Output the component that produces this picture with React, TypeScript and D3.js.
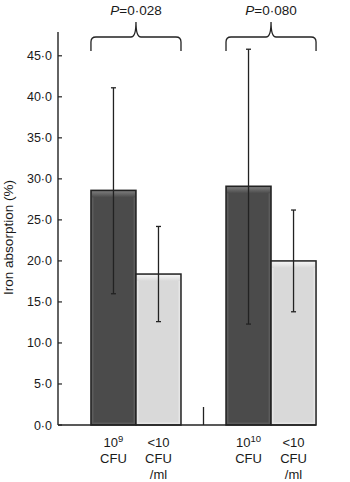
import React from 'react';
import * as d3 from 'd3';

// groups along the x axis, and the two bars inside each group
const groups = ['A', 'B'];
const subgroups = ['dose', 'control'];

const pLabels = ['0·028', '0·080'];

// mean iron absorption (%) per group, in subgroup order
const doseMeans = [28.6, 29.1];
const controlMeans = [18.4, 20.0];

// error bar ends
const doseUpper = [41.1, 45.8];
const doseLower = [16.0, 12.3];
const controlUpper = [24.2, 26.2];
const controlLower = [12.6, 13.8];

// x labels under each bar
const doseExp = ['9', '10'];
const controlLabel = ['<10', 'CFU', '/ml'];

const yTicks = [0, 5, 10, 15, 20, 25, 30, 35, 40, 45];

const W = 350;
const H = 482;
const font = '"Liberation Sans", Arial, sans-serif';

const fmt = (v: number) => v.toFixed(1).replace('.', '·');

const barColors: Record<string, { body: string; hi: string; edge: string }> = {
  dose: { body: '#4b4b4b', hi: '#7a7a7a', edge: '#5c5c5c' },
  control: { body: '#d9d9d9', hi: '#f4f4f4', edge: '#e6e6e6' },
};

export default function App() {
  const y = d3.scaleLinear().domain([0, 47.9]).range([425, 32]);

  const x = d3.scaleBand<string>()
    .domain(groups)
    .range([58, 349])
    .paddingInner(1 / 3)
    .paddingOuter(0.244);

  const xSub = d3.scaleBand<string>()
    .domain(subgroups)
    .range([0, x.bandwidth()]);

  const bars = groups.flatMap((g, i) => [
    { g, s: 'dose', v: doseMeans[i], hi: doseUpper[i], lo: doseLower[i] },
    { g, s: 'control', v: controlMeans[i], hi: controlUpper[i], lo: controlLower[i] },
  ]);

  const x0 = y(0);
  const axisTop = y.range()[1];
  const lastX = (x(groups[groups.length - 1]) || 0) + x.bandwidth();
  const midX = ((x(groups[0]) || 0) + x.bandwidth() + (x(groups[1]) || 0)) / 2;

  // curly brace above a group
  const brace = (a: number, b: number) => {
    const m = (a + b) / 2;
    const yEnd = 51, yH = 37, yP = 22;
    return `M${a},${yEnd} L${a},${yH + 5} Q${a},${yH} ${a + 5},${yH} L${m - 5},${yH}` +
      ` Q${m},${yH} ${m},${yP} Q${m},${yH} ${m + 5},${yH} L${b - 5},${yH}` +
      ` Q${b},${yH} ${b},${yH + 5} L${b},${yEnd}`;
  };

  return (
    <svg width={W} height={H} style={{ position: 'absolute', left: 0, top: 0, background: '#fff' }}
      fontFamily={font}>
      <defs>
        {subgroups.map(s => (
          <linearGradient key={s} id={`top-${s}`} x1="0" y1="0" x2="0" y2="1">
            <stop offset="0%" stopColor={barColors[s].hi} />
            <stop offset="100%" stopColor={barColors[s].body} />
          </linearGradient>
        ))}
      </defs>

      {/* y axis */}
      <line x1={58} x2={58} y1={axisTop} y2={x0} stroke="#222" strokeWidth={1.4} />
      {yTicks.map(t => (
        <g key={t}>
          <line x1={58} x2={62} y1={y(t)} y2={y(t)} stroke="#222" strokeWidth={1.2} />
          <text x={52} y={y(t) + 4.5} textAnchor="end" fontSize={12.5} fill="#1a1a1a">{fmt(t)}</text>
        </g>
      ))}
      <text transform={`translate(13,${237.5}) rotate(-90)`} textAnchor="middle" fontSize={13.5} fill="#1a1a1a">
        Iron absorption (%)
      </text>

      {/* bars */}
      {bars.map((d, i) => {
        const bx = (x(d.g) || 0) + (xSub(d.s) || 0);
        const bw = xSub.bandwidth();
        const by = y(d.v);
        const bh = x0 - by;
        const c = barColors[d.s];
        return (
          <g key={i}>
            <rect x={bx} y={by} width={bw} height={bh} fill={c.body} />
            <rect x={bx + 1.5} y={by + 1.5} width={bw - 3} height={bh - 3} fill="none" stroke={c.edge} strokeWidth={2} />
            <rect x={bx + 1} y={by + 1} width={bw - 2} height={6} fill={`url(#top-${d.s})`} />
            <rect x={bx} y={by} width={bw} height={bh} fill="none" stroke="#222" strokeWidth={1.5} />
          </g>
        );
      })}

      {/* error bars */}
      {bars.map((d, i) => {
        const cx = (x(d.g) || 0) + (xSub(d.s) || 0) + xSub.bandwidth() / 2;
        return (
          <g key={`e${i}`} stroke="#222" strokeWidth={1.3}>
            <line x1={cx} x2={cx} y1={y(d.hi)} y2={y(d.lo)} />
            <line x1={cx - 2.5} x2={cx + 2.5} y1={y(d.hi)} y2={y(d.hi)} />
            <line x1={cx - 2.5} x2={cx + 2.5} y1={y(d.lo)} y2={y(d.lo)} />
          </g>
        );
      })}

      {/* baseline and divider tick */}
      <line x1={58} x2={lastX} y1={x0} y2={x0} stroke="#222" strokeWidth={1.5} />
      <line x1={midX} x2={midX} y1={x0} y2={x0 - 18} stroke="#222" strokeWidth={1.3} />

      {/* braces and p values */}
      {groups.map((g, i) => {
        const a = x(g) || 0;
        const b = a + x.bandwidth();
        return (
          <g key={`b${g}`}>
            <path d={brace(a, b)} fill="none" stroke="#222" strokeWidth={1.3} />
            <text x={(a + b) / 2} y={15} textAnchor="middle" fontSize={13.5} fill="#1a1a1a">
              <tspan fontStyle="italic">P</tspan>={pLabels[i]}
            </text>
          </g>
        );
      })}

      {/* x labels */}
      {groups.map((g, i) => {
        const cd = (x(g) || 0) + (xSub('dose') || 0) + xSub.bandwidth() / 2;
        const cc = (x(g) || 0) + (xSub('control') || 0) + xSub.bandwidth() / 2;
        return (
          <g key={`l${g}`} fontSize={13} fill="#1a1a1a" textAnchor="middle">
            <text x={cd} y={447}>
              10<tspan fontSize={9.5} dy={-5}>{doseExp[i]}</tspan>
            </text>
            <text x={cd} y={463}>CFU</text>
            {controlLabel.map((t, j) => (
              <text key={j} x={cc} y={447 + j * 16}>{t}</text>
            ))}
          </g>
        );
      })}
    </svg>
  );
}
